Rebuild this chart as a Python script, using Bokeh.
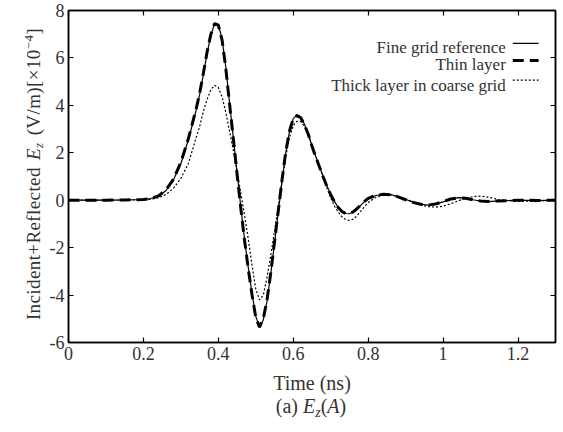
from bokeh.plotting import figure
from bokeh.models import Range1d, LinearAxis, FixedTicker, CustomJSTickFormatter, Label, Arrow, Div
from bokeh.layouts import row, column
from bokeh.embed import file_html
from bokeh.resources import INLINE

# ---------------- data ----------------
time_ns = [0.00, 0.05, 0.10, 0.15, 0.20, 0.22, 0.24, 0.26, 0.28, 0.30,
           0.32, 0.34, 0.35, 0.36, 0.37, 0.38, 0.39, 0.40, 0.41, 0.42,
           0.43, 0.44, 0.45, 0.46, 0.47, 0.48, 0.49, 0.50, 0.51, 0.52,
           0.53, 0.54, 0.55, 0.56, 0.57, 0.58, 0.59, 0.60, 0.61, 0.62,
           0.63, 0.64, 0.65, 0.66, 0.67, 0.68, 0.69, 0.70, 0.71, 0.72,
           0.73, 0.74, 0.75, 0.76, 0.77, 0.78, 0.79, 0.80, 0.82, 0.84,
           0.86, 0.88, 0.90, 0.92, 0.94, 0.96, 0.98, 1.00, 1.02, 1.04,
           1.06, 1.08, 1.10, 1.12, 1.15, 1.20, 1.25, 1.30]

fine_grid = [0, 0, 0, 0.01, 0.03, 0.07, 0.18, 0.40, 0.85, 1.55,
             2.55, 3.75, 4.45, 5.3, 6.2, 6.95, 7.45, 7.4, 6.8, 5.6,
             4.1, 2.65, 1.15, -0.3, -1.65, -2.85, -3.95, -4.9, -5.35, -5.05,
             -4.25, -3.1, -1.8, -0.5, 0.8, 2.0, 2.9, 3.45, 3.58, 3.5,
             3.2, 2.8, 2.3, 1.85, 1.42, 1.0, 0.6, 0.25, -0.05, -0.3,
             -0.47, -0.56, -0.57, -0.5, -0.38, -0.22, -0.06, 0.07, 0.2, 0.25,
             0.24, 0.15, 0.03, -0.08, -0.17, -0.21, -0.17, -0.07, 0.04, 0.11,
             0.09, 0.02, -0.04, -0.06, -0.03, 0.0, -0.02, 0.0]

thin_layer = [0, 0, 0, 0.01, 0.03, 0.07, 0.18, 0.42, 0.88, 1.6,
              2.6, 3.8, 4.5, 5.35, 6.25, 7.0, 7.45, 7.38, 6.75, 5.55,
              4.05, 2.6, 1.1, -0.35, -1.7, -2.9, -4.0, -4.95, -5.35, -5.0,
              -4.2, -3.05, -1.75, -0.45, 0.85, 2.05, 2.92, 3.45, 3.57, 3.48,
              3.18, 2.78, 2.28, 1.83, 1.4, 0.98, 0.58, 0.23, -0.07, -0.31,
              -0.48, -0.56, -0.56, -0.49, -0.36, -0.2, -0.05, 0.08, 0.2, 0.25,
              0.23, 0.14, 0.02, -0.09, -0.17, -0.2, -0.16, -0.06, 0.05, 0.1,
              0.08, 0.02, -0.03, -0.05, -0.03, 0.0, -0.01, 0.0]

thick_coarse = [0, 0, 0, 0, 0.02, 0.04, 0.1, 0.24, 0.5, 0.92,
                1.55, 2.6, 3.1, 3.75, 4.25, 4.65, 4.85, 4.75, 4.35, 3.7,
                2.9, 2.1, 1.25, 0.3, -0.65, -1.65, -2.75, -3.75, -4.2, -4.0,
                -3.25, -2.3, -1.3, -0.25, 0.85, 1.85, 2.65, 3.15, 3.33, 3.32,
                3.1, 2.75, 2.3, 1.85, 1.4, 0.95, 0.5, 0.1, -0.25, -0.5,
                -0.7, -0.82, -0.85, -0.8, -0.66, -0.47, -0.27, -0.1, 0.12, 0.22,
                0.22, 0.16, 0.06, -0.07, -0.19, -0.27, -0.29, -0.25, -0.15, -0.03,
                0.08, 0.15, 0.17, 0.13, 0.02, -0.05, -0.03, 0.0]

x_ticks = [0, 0.2, 0.4, 0.6, 0.8, 1, 1.2]
y_ticks = [-6, -4, -2, 0, 2, 4, 6, 8]
legend_labels = ["Fine grid reference", "Thin layer", "Thick layer in coarse grid"]
x_label = "Time (ns)"

# ---------------- layout geometry (page pixels) ----------------
PAGE_W, PAGE_H = 563, 432
YLAB_W = 46                      # width of the y-label column
FIG_W, FIG_H = PAGE_W - YLAB_W, 396
CAP_H = PAGE_H - FIG_H
LEFT, RIGHT, TOP, BOTTOM = 19, 8, 10, 50   # frame: page x 65..555, y 10..346
X0, X1, Y0, Y1 = 0, 1.3, -6, 8

FONT = "Liberation Serif"
TXT = "#333333"

p = figure(width=FIG_W, height=FIG_H, output_backend="svg", toolbar_location=None,
           x_range=Range1d(X0, X1), y_range=Range1d(Y0, Y1),
           min_border_left=LEFT, min_border_right=RIGHT,
           min_border_top=TOP, min_border_bottom=BOTTOM, margin=0)
p.grid.visible = False
p.background_fill_color = "white"
p.border_fill_color = "white"
p.outline_line_color = "black"
p.outline_line_width = 1.5

fmt = CustomJSTickFormatter(code="return tick.toString();")

top_ax = LinearAxis()
right_ax = LinearAxis()
p.add_layout(top_ax, "above")
p.add_layout(right_ax, "right")

for ax in p.xaxis:
    ax.ticker = FixedTicker(ticks=x_ticks)
for ax in p.yaxis:
    ax.ticker = FixedTicker(ticks=y_ticks)
for ax in list(p.xaxis) + list(p.yaxis):
    shown = ax not in (top_ax, right_ax)
    ax.formatter = fmt
    ax.major_tick_in = 5
    ax.major_tick_out = 0
    ax.minor_tick_line_color = None
    ax.axis_line_width = 1.5
    ax.axis_line_color = "black"
    ax.major_tick_line_color = "black"
    ax.major_tick_line_width = 1.2
    ax.major_label_text_font = FONT
    if shown:
        ax.major_label_text_color = TXT
        ax.major_label_text_font_size = "18px"
        ax.major_label_standoff = 4
    else:
        ax.major_label_text_color = None
        ax.major_label_text_font_size = "1px"
        ax.major_label_standoff = 0

xa = p.below[0]
xa.axis_label = x_label
xa.axis_label_text_font = FONT
xa.axis_label_text_font_size = "20px"
xa.axis_label_text_font_style = "normal"
xa.axis_label_text_color = TXT
xa.axis_label_standoff = 9

# ---------------- curves ----------------
p.line(time_ns, thick_coarse, line_color="black", line_width=1.2, line_dash="2 2")
p.line(time_ns, fine_grid, line_color="black", line_width=1.2)
p.line(time_ns, thin_layer, line_color="black", line_width=3, line_dash="11 6")


# ---------------- legend (text right aligned, sample on the right) ----------------
def dx(page_px):
    px = page_px - YLAB_W
    return X0 + (px - LEFT) / (FIG_W - LEFT - RIGHT) * (X1 - X0)


def dy(page_py):
    return Y1 - (page_py - TOP) / (FIG_H - TOP - BOTTOM) * (Y1 - Y0)


legend_text_y = [47.5, 65, 85.5]
legend_line_y = [43.3, 60.7, 80.5]
legend_styles = [dict(line_width=1.2, line_dash="solid"),
                 dict(line_width=3, line_dash="11 6"),
                 dict(line_width=1.2, line_dash="2 2")]
for name, ty, ly, st in zip(legend_labels, legend_text_y, legend_line_y, legend_styles):
    p.add_layout(Label(x=dx(505), y=dy(ty), text=name, text_font=FONT,
                       text_font_size="17px", text_color=TXT,
                       text_align="right", text_baseline="alphabetic"))
    p.add_layout(Arrow(start=None, end=None, x_start=dx(512), x_end=dx(538),
                       y_start=dy(ly), y_end=dy(ly), line_color="black", **st))

# ---------------- y axis label (rotated HTML text) ----------------
ylab_len = 340
ylab_center = 173.5
ylab_html = (
    f'<div style="position:relative;width:{YLAB_W}px;height:{PAGE_H}px;overflow:visible;">'
    f'<div style="position:absolute;left:18px;top:{ylab_center + ylab_len / 2}px;'
    f'width:{ylab_len}px;height:22px;line-height:22px;transform-origin:0 0;'
    f'transform:rotate(-90deg);text-align:center;white-space:nowrap;'
    f"font-family:'{FONT}';font-size:19px;letter-spacing:0.4px;word-spacing:2px;color:{TXT};\">"
    'Incident+Reflected <i>E</i>'
    '<span style="font-size:13px;font-style:italic;vertical-align:-3px;">z</span>'
    ' (V/m)[×10'
    '<span style="font-size:13px;vertical-align:7px;">−4</span>]'
    '</div></div>'
)
ylab_div = Div(text=ylab_html, width=YLAB_W, height=PAGE_H, margin=0)

# ---------------- caption ----------------
cap_html = (
    f'<div style="width:{FIG_W}px;box-sizing:border-box;padding-left:13px;'
    f"text-align:center;margin:0;font-family:'{FONT}';font-size:20px;"
    f'line-height:20px;color:{TXT};white-space:nowrap;">'
    '(a) <i>E</i><span style="font-size:14px;font-style:italic;vertical-align:-4px;">z</span>'
    '(<i>A</i>)</div>'
)
cap_div = Div(text=cap_html, width=FIG_W, height=CAP_H, margin=0)

layout = row(ylab_div, column(p, cap_div, spacing=0), spacing=0)

open("out.html", "w").write(file_html(layout, INLINE))
